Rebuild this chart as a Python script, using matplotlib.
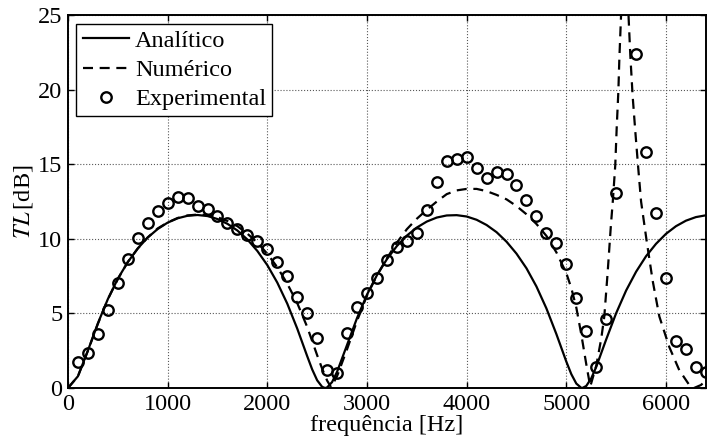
import numpy as np
import matplotlib
matplotlib.use("Agg")
import matplotlib.pyplot as plt

plt.rcParams['font.family'] = ['Liberation Serif', 'DejaVu Serif']
plt.rcParams['mathtext.fontset'] = 'stix'

# analitico
f_ana = [0, 100, 200, 300, 400, 500, 600, 700, 800, 900, 1000, 1100, 1200, 1300,
         1400, 1500, 1600, 1700, 1800, 1900, 2000, 2100, 2200, 2300, 2400, 2450,
         2500, 2550, 2580, 2600, 2650, 2700, 2800, 2900, 3000, 3100, 3200, 3300,
         3400, 3500, 3600, 3700, 3800, 3900, 4000, 4100, 4200, 4300, 4400, 4500,
         4600, 4700, 4800, 4900, 5000, 5050, 5100, 5150, 5160, 5200, 5250, 5300,
         5400, 5500, 5600, 5700, 5800, 5900, 6000, 6100, 6200, 6300, 6400]
tl_ana = [0, 0.79, 2.51, 4.34, 5.96, 7.33, 8.44, 9.36, 10.09, 10.66, 11.09, 11.38,
          11.55, 11.60, 11.53, 11.33, 11.01, 10.56, 9.96, 9.19, 8.24, 7.07, 5.66,
          3.99, 2.14, 1.25, 0.52, 0.08, 0, 0.04, 0.40, 1.09, 2.89, 4.69, 6.26,
          7.57, 8.64, 9.52, 10.22, 10.76, 11.16, 11.43, 11.57, 11.59, 11.50, 11.28,
          10.93, 10.45, 9.81, 9.01, 8.03, 6.81, 5.34, 3.62, 1.77, 0.93, 0.30, 0.01,
          0, 0.14, 0.65, 1.42, 3.26, 5.02, 6.54, 7.80, 8.84, 9.67, 10.34, 10.85,
          11.22, 11.46, 11.58]

# numerico
f_num = [0, 100, 200, 300, 400, 500, 600, 700, 800, 900, 1000, 1100, 1200, 1300,
         1400, 1500, 1600, 1700, 1800, 1900, 2000, 2100, 2200, 2300, 2400, 2500,
         2550, 2600, 2640, 2700, 2800, 2900, 3000, 3100, 3200, 3300, 3400, 3500,
         3600, 3700, 3800, 3900, 4000, 4100, 4200, 4300, 4400, 4500, 4600, 4700,
         4800, 4900, 5000, 5050, 5100, 5150, 5200, 5240, 5300, 5350, 5381, 5414,
         5448, 5466, 5491, 5505, 5522, 5532, 5548, 5587, 5625, 5642, 5665, 5692,
         5722, 5750, 5805, 5866, 5933, 6033, 6133, 6234, 6280, 6350, 6400]
tl_num = [0, 0.79, 2.5, 4.3, 5.95, 7.3, 8.45, 9.35, 10.1, 10.7, 11.1, 11.4, 11.57,
          11.63, 11.6, 11.45, 11.2, 10.85, 10.35, 9.75, 9.0, 8.1, 7.0, 5.7, 4.1,
          2.2, 1.3, 0.5, 0.05, 0.8, 2.6, 4.5, 6.2, 7.55, 8.7, 9.75, 10.65, 11.35,
          11.95, 12.5, 13.0, 13.25, 13.35, 13.35, 13.2, 12.95, 12.65, 12.2, 11.65,
          11.0, 10.2, 9.1, 7.7, 6.7, 5.4, 3.6, 1.6, 0.1, 1.5, 3.3, 4.8, 7.7, 11.0,
          12.5, 14.95, 17.4, 19.9, 22.1, 24.8, 33.0, 24.8, 22.3, 19.6, 17.2, 14.7,
          12.5, 9.9, 7.2, 4.8, 2.75, 1.2, 0.2, 0.0, 0.2, 0.5]

# experimental
f_exp = [100, 200, 300, 400, 500, 600, 700, 800, 900, 1000, 1100, 1200, 1300,
         1400, 1500, 1600, 1700, 1800, 1900, 2000, 2100, 2200, 2300, 2400, 2500,
         2600, 2700, 2800, 2900, 3000, 3100, 3200, 3300, 3400, 3500, 3600, 3700,
         3800, 3900, 4000, 4100, 4200, 4300, 4400, 4500, 4600, 4700, 4800, 4900,
         5000, 5100, 5200, 5300, 5400, 5500, 5700, 5800, 5900, 6000, 6100, 6200,
         6300, 6400]
tl_exp = [1.77, 2.32, 3.62, 5.23, 7.06, 8.65, 10.03, 11.04, 11.86, 12.42, 12.82,
          12.76, 12.22, 11.98, 11.53, 11.08, 10.63, 10.25, 9.87, 9.29, 8.47, 7.53,
          6.08, 5.05, 3.35, 1.21, 1.03, 3.71, 5.45, 6.35, 7.39, 8.58, 9.47, 9.87,
          10.41, 11.93, 13.83, 15.19, 15.37, 15.46, 14.75, 14.10, 14.45, 14.37,
          13.63, 12.60, 11.53, 10.41, 9.74, 8.29, 6.05, 3.84, 1.39, 4.60, 13.05,
          22.4, 15.8, 11.75, 7.35, 3.17, 2.61, 1.39, 1.05]

fig = plt.figure(figsize=(7.08, 4.45), dpi=100)
ax = fig.add_subplot(111)
fig.subplots_adjust(left=0.096, right=0.997, bottom=0.128, top=0.966)

ax.plot(f_ana, tl_ana, color='black', lw=1.6, label='Analítico')
ax.plot(f_num, tl_num, color='black', lw=1.6, ls='--', dashes=(4.5, 3),
        label='Numérico')
ax.plot(f_exp, tl_exp, 'o', mfc='none', mec='black', mew=1.7, ms=7.5,
        label='Experimental')

ax.set_xlim(0, 6400)
ax.set_ylim(0, 25)
ax.set_xticks([0, 1000, 2000, 3000, 4000, 5000, 6000])
ax.set_yticks([0, 5, 10, 15, 20, 25])
ax.tick_params(direction='in', length=4.5, width=1, labelsize=17.5,
               top=True, right=True, pad=4)
for s in ax.spines.values():
    s.set_linewidth(1.4)
ax.grid(True, ls=':', lw=0.8, color='0.35')

ax.set_xlabel('frequência [Hz]', fontsize=17.5, labelpad=0)
ax.set_ylabel(r'$TL\,$[dB]', fontsize=17.5, labelpad=2)

leg = ax.legend(loc='upper left', fontsize=17.5, fancybox=False, framealpha=1,
                edgecolor='black', borderaxespad=0.35, borderpad=0.25,
                labelspacing=0.3, handlelength=1.9, handletextpad=0.25)
leg.get_frame().set_linewidth(1.0)

plt.savefig('out.png', dpi=100)
